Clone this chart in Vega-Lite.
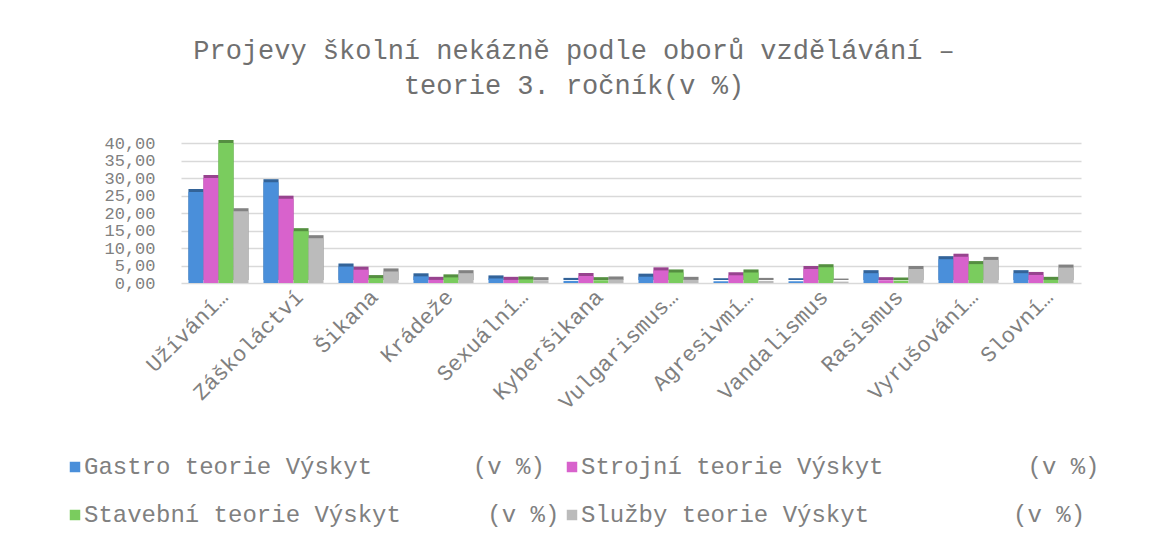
{
  "$schema": "https://vega.github.io/schema/vega-lite/v6.json",
  "width": 900,
  "height": 140,
  "autosize": {"type": "none"},
  "padding": {"left": 181, "top": 143, "right": 91, "bottom": 260},
  "background": "white",
  "config": {"view": {"stroke": null}},
  "title": {
    "text": ["Projevy školní nekázně podle oborů vzdělávání –", "teorie 3. ročník(v %)"],
    "font": "Liberation Mono",
    "fontSize": 27,
    "fontWeight": "normal",
    "color": "#707070",
    "lineHeight": 35,
    "anchor": "middle",
    "frame": "group",
    "dx": -57,
    "offset": 34
  },
  "data": {
    "values": [
      {"category": "Užívání…", "series": "Gastro teorie Výskyt (v %)", "value": 26.0},
      {"category": "Užívání…", "series": "Strojní teorie Výskyt (v %)", "value": 30.0},
      {"category": "Užívání…", "series": "Stavební teorie Výskyt (v %)", "value": 40.0},
      {"category": "Užívání…", "series": "Služby teorie Výskyt (v %)", "value": 20.5},
      {"category": "Záškoláctví", "series": "Gastro teorie Výskyt (v %)", "value": 28.8},
      {"category": "Záškoláctví", "series": "Strojní teorie Výskyt (v %)", "value": 24.1},
      {"category": "Záškoláctví", "series": "Stavební teorie Výskyt (v %)", "value": 14.8},
      {"category": "Záškoláctví", "series": "Služby teorie Výskyt (v %)", "value": 12.8},
      {"category": "Šikana", "series": "Gastro teorie Výskyt (v %)", "value": 4.7},
      {"category": "Šikana", "series": "Strojní teorie Výskyt (v %)", "value": 3.8},
      {"category": "Šikana", "series": "Stavební teorie Výskyt (v %)", "value": 1.4},
      {"category": "Šikana", "series": "Služby teorie Výskyt (v %)", "value": 3.3},
      {"category": "Krádeže", "series": "Gastro teorie Výskyt (v %)", "value": 1.9},
      {"category": "Krádeže", "series": "Strojní teorie Výskyt (v %)", "value": 0.9},
      {"category": "Krádeže", "series": "Stavební teorie Výskyt (v %)", "value": 1.6},
      {"category": "Krádeže", "series": "Služby teorie Výskyt (v %)", "value": 2.8},
      {"category": "Sexuální…", "series": "Gastro teorie Výskyt (v %)", "value": 1.3},
      {"category": "Sexuální…", "series": "Strojní teorie Výskyt (v %)", "value": 0.9},
      {"category": "Sexuální…", "series": "Stavební teorie Výskyt (v %)", "value": 1.0},
      {"category": "Sexuální…", "series": "Služby teorie Výskyt (v %)", "value": 0.8},
      {"category": "Kyberšikana", "series": "Gastro teorie Výskyt (v %)", "value": 0.6},
      {"category": "Kyberšikana", "series": "Strojní teorie Výskyt (v %)", "value": 2.0},
      {"category": "Kyberšikana", "series": "Stavební teorie Výskyt (v %)", "value": 0.8},
      {"category": "Kyberšikana", "series": "Služby teorie Výskyt (v %)", "value": 1.0},
      {"category": "Vulgarismus…", "series": "Gastro teorie Výskyt (v %)", "value": 1.8},
      {"category": "Vulgarismus…", "series": "Strojní teorie Výskyt (v %)", "value": 3.6},
      {"category": "Vulgarismus…", "series": "Stavební teorie Výskyt (v %)", "value": 3.0},
      {"category": "Vulgarismus…", "series": "Služby teorie Výskyt (v %)", "value": 0.9},
      {"category": "Agresivmí…", "series": "Gastro teorie Výskyt (v %)", "value": 0.5},
      {"category": "Agresivmí…", "series": "Strojní teorie Výskyt (v %)", "value": 2.2},
      {"category": "Agresivmí…", "series": "Stavební teorie Výskyt (v %)", "value": 3.0},
      {"category": "Agresivmí…", "series": "Služby teorie Výskyt (v %)", "value": 0.6},
      {"category": "Vandalismus", "series": "Gastro teorie Výskyt (v %)", "value": 0.5},
      {"category": "Vandalismus", "series": "Strojní teorie Výskyt (v %)", "value": 4.0},
      {"category": "Vandalismus", "series": "Stavební teorie Výskyt (v %)", "value": 4.5},
      {"category": "Vandalismus", "series": "Služby teorie Výskyt (v %)", "value": 0.4},
      {"category": "Rasismus", "series": "Gastro teorie Výskyt (v %)", "value": 2.8},
      {"category": "Rasismus", "series": "Strojní teorie Výskyt (v %)", "value": 0.8},
      {"category": "Rasismus", "series": "Stavební teorie Výskyt (v %)", "value": 0.7},
      {"category": "Rasismus", "series": "Služby teorie Výskyt (v %)", "value": 4.0},
      {"category": "Vyrušování…", "series": "Gastro teorie Výskyt (v %)", "value": 6.8},
      {"category": "Vyrušování…", "series": "Strojní teorie Výskyt (v %)", "value": 7.5},
      {"category": "Vyrušování…", "series": "Stavební teorie Výskyt (v %)", "value": 5.4},
      {"category": "Vyrušování…", "series": "Služby teorie Výskyt (v %)", "value": 6.6},
      {"category": "Slovní…", "series": "Gastro teorie Výskyt (v %)", "value": 2.8},
      {"category": "Slovní…", "series": "Strojní teorie Výskyt (v %)", "value": 2.3},
      {"category": "Slovní…", "series": "Stavební teorie Výskyt (v %)", "value": 0.9},
      {"category": "Slovní…", "series": "Služby teorie Výskyt (v %)", "value": 4.4}
    ]
  },
  "encoding": {
    "x": {
      "field": "category",
      "type": "nominal",
      "sort": null,
      "scale": {"paddingInner": 0.2, "paddingOuter": 0.1},
      "axis": {
        "title": null,
        "labelAngle": -45,
        "labelAlign": "right",
        "labelBaseline": "middle",
        "labelFont": "Liberation Mono",
        "labelFontSize": 22,
        "labelColor": "#808080",
        "labelPadding": 10,
        "labelOffset": 6,
        "labelLimit": 400,
        "domain": false,
        "ticks": false
      }
    },
    "y": {
      "field": "value",
      "type": "quantitative",
      "scale": {"domain": [0, 40], "nice": false},
      "axis": {
        "title": null,
        "values": [0, 5, 10, 15, 20, 25, 30, 35, 40],
        "labelExpr": "replace(format(datum.value, '.2f'), '.', ',')",
        "labelOverlap": false,
        "labelFont": "Liberation Mono",
        "labelFontSize": 17,
        "labelColor": "#808080",
        "labelPadding": 26,
        "domain": false,
        "ticks": false,
        "gridColor": "#d9d9d9",
        "gridWidth": 1.5
      }
    },
    "xOffset": {"field": "series", "type": "nominal", "sort": null, "scale": {"paddingInner": 0, "paddingOuter": 0}},
    "color": {
      "field": "series",
      "type": "nominal",
      "scale": {
        "domain": ["Gastro teorie Výskyt (v %)", "Strojní teorie Výskyt (v %)", "Stavební teorie Výskyt (v %)", "Služby teorie Výskyt (v %)"],
        "range": ["#4A8FDA", "#D862CC", "#7ACC5E", "#BBBBBB"]
      },
      "legend": {
        "orient": "none",
        "direction": "horizontal",
        "legendX": -118,
        "legendY": 312,
        "columns": 2,
        "title": null,
        "padding": 0,
        "symbolType": "square",
        "symbolSize": 110,
        "symbolStrokeWidth": 0,
        "symbolOpacity": 1,
        "labelFont": "Liberation Mono",
        "labelFontSize": 24,
        "labelColor": "#808080",
        "labelOffset": -3,
        "columnPadding": 0,
        "rowPadding": 24,
        "labelLimit": 1000,
        "labelExpr": "datum.label == 'Gastro teorie Výskyt (v %)' ? 'Gastro teorie Výskyt\u00a0\u00a0\u00a0\u00a0\u00a0\u00a0\u00a0(v %)' : datum.label == 'Strojní teorie Výskyt (v %)' ? 'Strojní teorie Výskyt\u00a0\u00a0\u00a0\u00a0\u00a0\u00a0\u00a0\u00a0\u00a0\u00a0(v %)' : datum.label == 'Stavební teorie Výskyt (v %)' ? 'Stavební teorie Výskyt\u00a0\u00a0\u00a0\u00a0\u00a0\u00a0(v %)' : 'Služby teorie Výskyt\u00a0\u00a0\u00a0\u00a0\u00a0\u00a0\u00a0\u00a0\u00a0\u00a0(v %)'"
      }
    }
  },
  "layer": [
    {
      "mark": {"type": "bar", "xOffset": 3, "yOffset": -3}
    },
    {
      "mark": {"type": "bar", "xOffset": 3, "yOffset": -3, "opacity": 0.3},
      "encoding": {"color": {"value": "black"}}
    },
    {
      "mark": {"type": "bar"}
    }
  ]
}
